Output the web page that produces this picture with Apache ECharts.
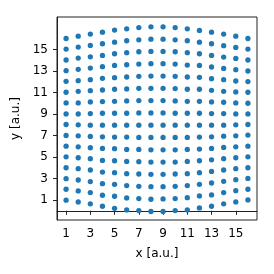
<!DOCTYPE html>
<html><head><meta charset="utf-8">
<script src="https://cdn.jsdelivr.net/npm/echarts@6/dist/echarts.min.js"></script>
<style>html,body{margin:0;padding:0;background:#fff}#c{width:274px;height:274px}</style>
</head><body><div id="c"></div>
<script>
// x positions of the 16 columns
var xValues = [1,2,3,4,5,6,7,8,9,10,11,12,13,14,15,16];
// y values of each column, top to bottom
var col1  = [16.02,15.04,14.02,13.03,12.04,11.02,10.03,9.01,8.02,7.00,6.01,5.02,4.00,2.98,2.00,0.98];
var col2  = [16.24,15.22,14.20,13.15,12.10,11.11,10.03,9.01,7.99,6.97,5.95,4.93,3.91,2.86,1.84,0.82];
var col3  = [16.43,15.38,14.32,13.27,12.19,11.17,10.12,9.04,7.96,6.91,5.86,4.84,3.79,2.71,1.69,0.64];
var col4  = [16.61,15.53,14.45,13.40,12.32,11.23,10.15,9.07,7.96,6.88,5.80,4.68,3.60,2.52,1.44,0.42];
var col5  = [16.80,15.68,14.60,13.52,12.38,11.30,10.18,9.07,7.96,6.85,5.77,4.65,3.54,2.46,1.35,0.23];
var col6  = [16.92,15.81,14.70,13.58,12.44,11.33,10.21,9.07,7.96,6.85,5.70,4.59,3.45,2.34,1.19,0.08];
var col7  = [17.04,15.90,14.79,13.64,12.50,11.39,10.25,9.10,7.96,6.82,5.70,4.56,3.42,2.27,1.13,0.02];
var col8  = [17.11,15.96,14.82,13.68,12.53,11.39,10.25,9.10,7.96,6.82,5.67,4.53,3.39,2.24,1.07,-0.07];
var col9  = [17.11,15.96,14.82,13.68,12.53,11.39,10.25,9.10,7.96,6.82,5.67,4.53,3.39,2.24,1.10,-0.07];
var col10 = [17.04,15.90,14.79,13.64,12.50,11.36,10.21,9.07,7.96,6.82,5.67,4.53,3.42,2.27,1.13,0.02];
var col11 = [16.92,15.81,14.70,13.55,12.44,11.30,10.18,9.07,7.96,6.82,5.70,4.59,3.45,2.34,1.22,0.08];
var col12 = [16.77,15.68,14.60,13.52,12.41,11.30,10.18,9.07,7.96,6.85,5.74,4.65,3.54,2.46,1.38,0.26];
var col13 = [16.61,15.53,14.45,13.37,12.28,11.20,10.12,9.04,7.96,6.88,5.80,4.74,3.66,2.58,1.47,0.42];
var col14 = [16.43,15.35,14.29,13.24,12.19,11.11,10.09,9.04,7.96,6.94,5.89,4.84,3.79,2.74,1.69,0.64];
var col15 = [16.24,15.19,14.17,13.12,12.07,11.05,10.03,9.01,7.99,6.97,5.95,4.93,3.91,2.89,1.87,0.82];
var col16 = [16.02,15.04,14.02,13.00,12.01,11.02,10.00,9.01,8.02,7.04,6.01,5.02,4.00,3.01,2.00,1.01];
var columns = [col1,col2,col3,col4,col5,col6,col7,col8,col9,col10,col11,col12,col13,col14,col15,col16];
var xTicks = [1,3,5,7,9,11,13,15];
var yTicks = [1,3,5,7,9,11,13,15];

var pts = [];
columns.forEach(function(col, i){ col.forEach(function(y){ pts.push([xValues[i], y]); }); });

var chart = echarts.init(document.getElementById('c'), null, {renderer:'canvas'});
var font = 'DejaVu Sans';
chart.setOption({
  animation: false,
  grid: {left: 57, top: 17, width: 200, height: 203, show: true, borderColor: '#222', borderWidth: 1, backgroundColor: 'transparent'},
  xAxis: {
    type: 'value', min: 0.25, max: 16.75,
    name: 'x [a.u.]', nameLocation: 'middle', nameGap: 28,
    nameTextStyle: {fontFamily: font, fontSize: 12, color: '#000'},
    axisLine: {show: true, lineStyle: {color: '#222', width: 1}},
    axisTick: {show: true, length: 4, lineStyle: {color: '#222'}, customValues: xTicks},
    axisLabel: {fontFamily: font, fontSize: 12, color: '#000', margin: 8, customValues: xTicks},
    splitLine: {show: false}
  },
  yAxis: {
    type: 'value', min: -0.86, max: 18.02,
    name: 'y [a.u.]', nameLocation: 'middle', nameGap: 28,
    nameTextStyle: {fontFamily: font, fontSize: 12, color: '#000'},
    axisLine: {show: true, lineStyle: {color: '#222', width: 1}},
    axisTick: {show: true, length: 4, lineStyle: {color: '#222'}, customValues: yTicks},
    axisLabel: {fontFamily: font, fontSize: 12, color: '#000', margin: 9, customValues: yTicks},
    splitLine: {show: false}
  },
  series: [{
    type: 'scatter', data: pts, symbolSize: 5.3,
    itemStyle: {color: '#1f77b4', opacity: 1}
  }]
});
</script></body></html>
